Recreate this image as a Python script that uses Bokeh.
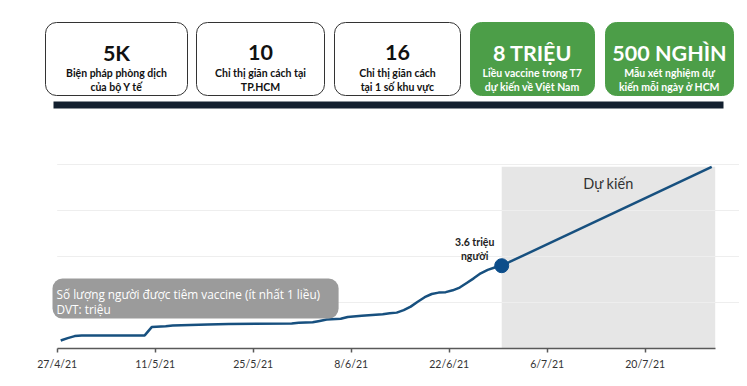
import pandas as pd
from bokeh.plotting import figure
from bokeh.layouts import column
from bokeh.models import Range1d, FixedTicker, BoxAnnotation, Label
from bokeh.core.properties import value
from bokeh.embed import file_html
from bokeh.resources import INLINE

# ---------------- data ----------------
box_titles = ["5K", "10", "16", "8 TRIỆU", "500 NGHÌN"]
box_line1 = ["Biện pháp phòng dịch", "Chỉ thị giãn cách tại", "Chỉ thị giãn cách",
             "Liều vaccine trong T7", "Mẫu xét nghiệm dự"]
box_line2 = ["của bộ Y tế", "TP.HCM", "tại 1 số khu vực",
             "dự kiến về Việt Nam", "kiến mỗi ngày ở HCM"]
box_highlight = [False, False, False, True, True]

dates = ["2021-04-27", "2021-04-28", "2021-04-29", "2021-04-30", "2021-05-01",
         "2021-05-05", "2021-05-09", "2021-05-10", "2021-05-12", "2021-05-13",
         "2021-05-18", "2021-05-21", "2021-05-30", "2021-05-31", "2021-06-02",
         "2021-06-03", "2021-06-04", "2021-06-06", "2021-06-07", "2021-06-09",
         "2021-06-12", "2021-06-13", "2021-06-14", "2021-06-15", "2021-06-16",
         "2021-06-17", "2021-06-18", "2021-06-19", "2021-06-20", "2021-06-21",
         "2021-06-22", "2021-06-23", "2021-06-24", "2021-06-25", "2021-06-26",
         "2021-06-27", "2021-06-28", "2021-06-29"]
vaccinated = [0.35, 0.45, 0.54, 0.56, 0.57,
              0.57, 0.57, 0.93, 0.97, 1.00,
              1.04, 1.06, 1.09, 1.12, 1.14,
              1.20, 1.26, 1.29, 1.37, 1.42,
              1.49, 1.53, 1.56, 1.67, 1.82,
              2.03, 2.23, 2.37, 2.43, 2.45,
              2.53, 2.65, 2.85, 3.05, 3.27,
              3.42, 3.52, 3.60]
forecast_dates = ["2021-06-29", "2021-07-29"]
forecast_values = [3.60, 7.90]

tick_dates = ["2021-04-27", "2021-05-11", "2021-05-25", "2021-06-08",
              "2021-06-22", "2021-07-06", "2021-07-20"]
tick_labels = ["27/4/21", "11/5/21", "25/5/21", "8/6/21", "22/6/21", "6/7/21", "20/7/21"]
grid_values = [2, 4, 6, 8]

series_title = "Số lượng người được tiêm vaccine (ít nhất 1 liều)"
series_unit = "DVT: triệu"
forecast_title = "Dự kiến"

# ---------------- header ----------------
W = 739
GREEN = "#4c9e48"
H_BOTTOM = 110
hdr = figure(width=W, height=H_BOTTOM, x_range=Range1d(0, W),
             y_range=Range1d(0, H_BOTTOM), output_backend="svg",
             toolbar_location=None, min_border=0)
hdr.axis.visible = False
hdr.grid.visible = False
hdr.outline_line_color = None


def hy(page_y):
    return H_BOTTOM - page_y


box_lefts = [45, 196, 334, 470, 605]
box_rights = [187, 324, 460, 594, 733]
for i in range(len(box_titles)):
    filled = box_highlight[i]
    hdr.add_layout(BoxAnnotation(left=box_lefts[i], right=box_rights[i],
                                 top=hy(22), bottom=hy(95), border_radius=11,
                                 fill_color=GREEN if filled else "white", fill_alpha=1,
                                 line_color=GREEN if filled else "#333333",
                                 line_width=1, line_alpha=1, level="underlay"))
centers = [(l + r) / 2 for l, r in zip(box_lefts, box_rights)]
tcolors = ["white" if f else "#111111" for f in box_highlight]
hdr.text(x=centers, y=[hy(52)] * 5, text=box_titles, text_color=tcolors,
         text_align="center", text_baseline="alphabetic",
         text_font=value("Lato"), text_font_style="bold", text_font_size="21.5px")
hdr.text(x=centers, y=[hy(72)] * 5, text=box_line1, text_color=tcolors,
         text_align="center", text_baseline="alphabetic",
         text_font=value("Lato"), text_font_style="bold", text_font_size="10.5px")
hdr.text(x=centers, y=[hy(86.5)] * 5, text=box_line2, text_color=tcolors,
         text_align="center", text_baseline="alphabetic",
         text_font=value("Lato"), text_font_style="bold", text_font_size="10.5px")
hdr.add_layout(BoxAnnotation(left=53, right=723, top=hy(101), bottom=hy(108),
                             fill_color="#13202f", fill_alpha=1, line_color=None))

# ---------------- chart ----------------
def ms(ts):
    return ts.value / 1e6


HALF_DAY = pd.Timedelta(hours=12)
ONE_DAY = pd.Timedelta(days=1)
d = pd.to_datetime(dates) + HALF_DAY          # daily values centred in their day
fd = pd.to_datetime(forecast_dates) + HALF_DAY
td = pd.to_datetime(tick_dates)
axis_start = pd.to_datetime(dates[0])
axis_end = pd.to_datetime(forecast_dates[-1]) + ONE_DAY
PX_PER_DAY = 7.0
LEFT_PAD_PX = 56.7
x_start = axis_start - pd.Timedelta(days=LEFT_PAD_PX / PX_PER_DAY)
x_end = x_start + pd.Timedelta(days=W / PX_PER_DAY)

C_HEIGHT = 268
p = figure(width=W, height=C_HEIGHT, x_axis_type="datetime",
           x_range=Range1d(ms(x_start), ms(x_end)), y_range=Range1d(0, 198 / 23),
           output_backend="svg", toolbar_location=None,
           min_border_left=0, min_border_right=0, min_border_top=40, min_border_bottom=30)
p.yaxis.visible = False
p.grid.visible = False
p.outline_line_color = None

# forecast shade
p.quad(left=[fd[0]], right=[axis_end], bottom=[0], top=[forecast_values[-1]],
       fill_color="#e6e6e6", line_color=None)
p.add_layout(Label(x=ms(fd[0] + (axis_end - fd[0]) / 2), y=forecast_values[-1], y_offset=-17,
                   text=forecast_title, text_align="center", text_baseline="alphabetic",
                   text_font="Lato", text_font_size="14.5px", text_color="#333333"))

# gridlines
p.segment(x0=[axis_start] * len(grid_values), x1=[x_end] * len(grid_values),
          y0=grid_values, y1=grid_values, line_color="#eeeeee", line_width=1)

# series
p.line(x=d, y=vaccinated, line_color="#17507f", line_width=2.5)
p.line(x=fd, y=forecast_values, line_color="#17507f", line_width=2.5)
p.scatter(x=[d[-1]], y=[vaccinated[-1]], size=14, fill_color="#0c4d8a",
          line_color="#0c4d8a")
p.add_layout(Label(x=ms(d[-1]), y=vaccinated[-1], x_offset=-27, y_offset=4,
                   text=f"{vaccinated[-1]:.1f} triệu\nngười", text_align="center",
                   text_baseline="bottom", text_font="Lato",
                   text_font_style="bold", text_font_size="10.5px", text_color="#222222",
                   text_line_height=1.15))

# legend-like box
box_left = axis_start - pd.Timedelta(days=0.67)
box_right = axis_start + pd.Timedelta(days=40.2)
p.add_layout(BoxAnnotation(left=ms(box_left), right=ms(box_right), bottom=1.30, top=3.04,
                           fill_color="#9b9b9b", fill_alpha=1, line_color=None,
                           border_radius=10))
p.add_layout(Label(x=ms(box_left), y=2.35, x_offset=4, text=series_title,
                   text_baseline="alphabetic", text_font="Open Sans",
                   text_font_size="11.8px", text_color="white"))
p.add_layout(Label(x=ms(box_left), y=1.70, x_offset=4, text=series_unit,
                   text_baseline="alphabetic", text_font="Open Sans",
                   text_font_size="11.8px", text_color="white"))

# x axis
tick_ms = [ms(t) for t in td]
p.xaxis.ticker = FixedTicker(ticks=tick_ms)
p.xaxis.major_label_overrides = {t: lbl for t, lbl in zip(tick_ms, tick_labels)}
p.xaxis.bounds = (ms(axis_start), ms(axis_end))
p.xaxis.axis_line_color = "#595959"
p.xaxis.axis_line_width = 1.5
p.xaxis.major_tick_line_color = "#595959"
p.xaxis.major_tick_line_width = 1.5
p.xaxis.major_tick_in = 0
p.xaxis.major_tick_out = 4
p.xaxis.minor_tick_line_color = None
p.xaxis.major_label_standoff = 5
p.xaxis.major_label_text_font = "Lato"
p.xaxis.major_label_text_font_size = "10.5px"
p.xaxis.major_label_text_color = "#333333"

layout = column(hdr, p, spacing=0)
open("out.html", "w").write(file_html(layout, INLINE))
